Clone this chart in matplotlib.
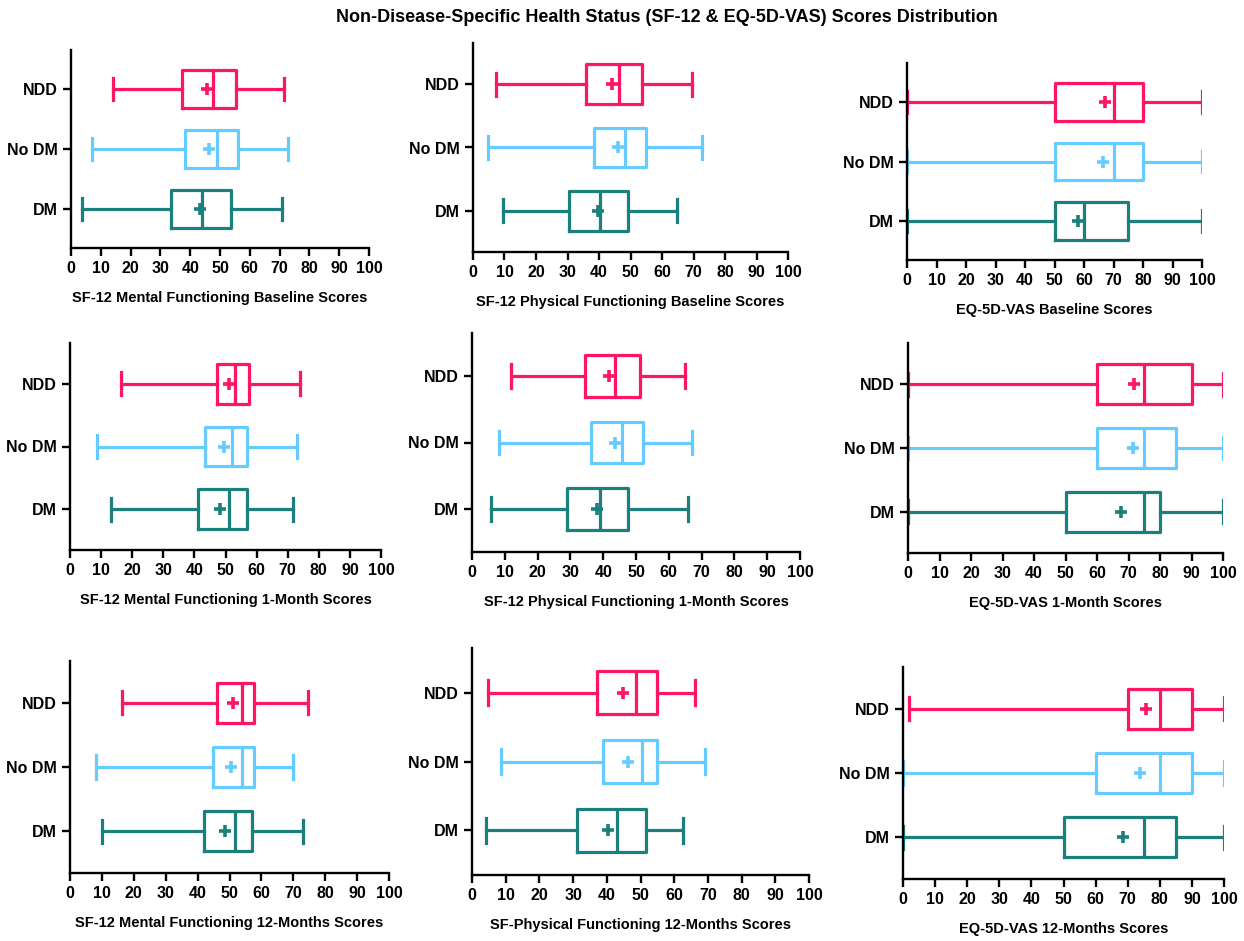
import numpy as np
import matplotlib
matplotlib.use('Agg')
import matplotlib.pyplot as plt

plt.rcParams['font.family'] = ['Liberation Sans', 'DejaVu Sans']
plt.rcParams['font.weight'] = 'bold'

groups = ['DM', 'No DM', 'NDD']
colores = ['#1B7F7B', '#66CCFF', '#FF1466']

titulos = ['SF-12 Mental Functioning Baseline Scores',
           'SF-12 Physical Functioning Baseline Scores',
           'EQ-5D-VAS Baseline Scores',
           'SF-12 Mental Functioning 1-Month Scores',
           'SF-12 Physical Functioning 1-Month Scores',
           'EQ-5D-VAS 1-Month Scores',
           'SF-12 Mental Functioning 12-Months Scores',
           'SF-Physical Functioning 12-Months Scores',
           'EQ-5D-VAS 12-Months Scores']

# por painel: [DM, No DM, NDD] -> (min, q1, mediana, q3, max, media)
mental_base = [(3.8, 33.6, 43.8, 53.6, 70.7, 43.3),
               (7.2, 38.4, 48.9, 55.9, 72.8, 46.3),
               (14.0, 37.1, 47.8, 55.4, 71.4, 45.7)]
fisico_base = [(9.5, 30.4, 40.4, 49.2, 64.7, 39.8),
               (4.8, 38.4, 48.1, 54.9, 72.7, 45.9),
               (7.4, 35.8, 46.3, 53.6, 69.6, 44.0)]
vas_base = [(0, 50, 60, 75, 100, 58.0),
            (0, 50, 70, 80, 100, 66.3),
            (0, 50, 70, 80, 100, 67.0)]
mental_1m = [(13.2, 41.3, 51.2, 57.0, 71.8, 48.2),
             (8.6, 43.4, 52.0, 57.0, 73.1, 49.5),
             (16.4, 47.2, 53.1, 57.7, 74.0, 51.2)]
fisico_1m = [(5.8, 28.9, 39.1, 47.7, 66.0, 38.1),
             (8.3, 36.3, 45.7, 52.1, 67.0, 43.5),
             (12.0, 34.5, 43.5, 51.3, 65.0, 41.9)]
vas_1m = [(0, 50, 75, 80, 100, 67.5),
          (0, 60, 75, 85, 100, 71.5),
          (0, 60, 75, 90, 100, 71.8)]
mental_12m = [(9.9, 42.1, 51.7, 56.9, 72.9, 48.7),
              (8.0, 44.9, 53.8, 57.7, 69.9, 50.4),
              (16.4, 46.1, 54.0, 57.6, 74.6, 51.1)]
fisico_12m = [(4.1, 31.1, 42.9, 51.5, 62.7, 40.3),
              (8.6, 39.0, 50.3, 54.8, 69.1, 46.2),
              (4.7, 37.0, 48.7, 54.8, 66.1, 44.9)]
vas_12m = [(0, 50, 75, 85, 100, 68.5),
           (0, 60, 80, 90, 100, 73.7),
           (2.0, 70, 80, 90, 100, 75.7)]

dados = [mental_base, fisico_base, vas_base,
         mental_1m, fisico_1m, vas_1m,
         mental_12m, fisico_12m, vas_12m]

# caixas dos eixos em pixels (x0, x1, topo, base)
caixas = [(71, 369, 50, 248), (473, 788, 43, 252), (907, 1202, 63, 260),
          (70, 381, 343, 550), (472, 800, 333, 552), (908, 1223, 343, 553),
          (70, 389, 661, 873), (472, 809, 648, 875), (903, 1224, 667, 879)]

W, H = 1244, 941
fig = plt.figure(figsize=(W/100, H/100), dpi=100)

for k in range(9):
    x0, x1, yt, yb = caixas[k]
    ax = fig.add_axes([x0/W, 1-yb/H, (x1-x0)/W, (yb-yt)/H])
    for i, g in enumerate(groups):
        mn, q1, med, q3, mx, mean = dados[k][i]
        st = [dict(label=g, whislo=mn, q1=q1, med=med, q3=q3, whishi=mx, mean=mean, fliers=[])]
        c = colores[i]
        lw = 2.3
        ax.bxp(st, positions=[i+1], orientation='horizontal', widths=0.63, capwidths=0.36,
               showmeans=True, showfliers=False,
               boxprops=dict(color=c, linewidth=lw),
               medianprops=dict(color=c, linewidth=lw),
               whiskerprops=dict(color=c, linewidth=lw),
               capprops=dict(color=c, linewidth=lw),
               meanprops=dict(marker='+', markeredgecolor=c, markeredgewidth=2.6, markersize=8.5))
    ax.set_yticks([1, 2, 3])
    ax.set_yticklabels(groups)
    ax.set_xlim(0, 100)
    ax.set_ylim(0.35, 3.65)
    ax.set_xticks(np.arange(0, 101, 10))
    ax.spines['top'].set_visible(False)
    ax.spines['right'].set_visible(False)
    ax.spines['left'].set_linewidth(1.7)
    ax.spines['bottom'].set_linewidth(1.7)
    ax.tick_params(width=1.7, length=6, labelsize=11.5)
    for lb in ax.get_xticklabels() + ax.get_yticklabels():
        lb.set_fontweight('bold')
    ax.set_xlabel(titulos[k], fontsize=10.5, fontweight='bold', labelpad=11)

fig.text(667/W, 1-17/H, 'Non-Disease-Specific Health Status (SF-12 & EQ-5D-VAS) Scores Distribution',
         ha='center', va='center', fontsize=13, fontweight='bold')

fig.savefig('out.png', dpi=100)
